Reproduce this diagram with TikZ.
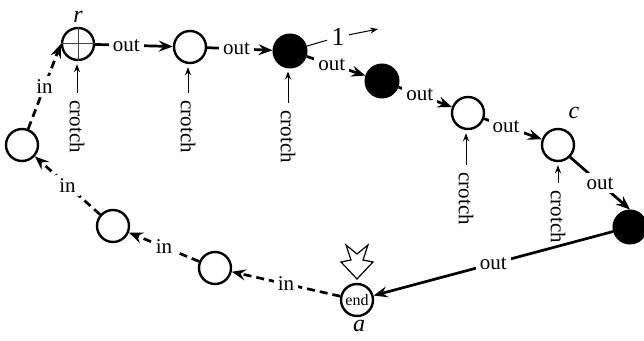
\documentclass[tikz,border=0pt]{standalone}
\usepackage{fontspec}
\setmainfont{Liberation Serif}
\usetikzlibrary{arrows.meta}
\begin{document}
\begin{tikzpicture}[x=0.5pt,y=-0.5pt,
  wnode/.style={circle,draw,line width=1.2pt,minimum size=16pt,inner sep=0pt},
  bnode/.style={circle,draw,fill=black,line width=1pt,minimum size=16.5pt,inner sep=0pt},
  lbl/.style={fill=white,inner sep=2pt,font=\fontsize{10.5}{12}\selectfont},
  outedge/.style={line width=1.35pt,-{Stealth[length=7pt,width=5.5pt,inset=2.5pt]}},
  inedge/.style={outedge,dash pattern=on 4pt off 2.5pt},
  crotchlbl/.style={rotate=-90,anchor=west,inner sep=3.5pt,font=\fontsize{10.5}{12}\selectfont},
  crarrow/.style={line width=0.5pt,-{Stealth[length=4pt,width=3pt]},shorten >=1.5pt},
  vname/.style={font=\fontsize{12}{14}\selectfont\itshape},
  thinline/.style={line width=0.5pt}
]
\useasboundingbox (0,0) rectangle (644,341);

% vertices
\node[wnode] (r) at (78,44) {};
\draw[thinline, black!75] (r.north) -- (r.south) (r.west) -- (r.east);
\node[wnode] (n2) at (190,47) {};
\node[bnode] (b1) at (290,51) {};
\node[bnode] (b2) at (382,81) {};
\node[wnode] (n5) at (468,113) {};
\node[wnode] (c) at (558,145) {};
\node[bnode] (b3) at (630,227) {};
\node[wnode, font=\fontsize{8}{9}\selectfont] (a) at (357,300) {end};
\node[wnode] (i1) at (215,268) {};
\node[wnode] (i2) at (113,226) {};
\node[wnode] (i3) at (22,145) {};

% vertex names
\node[vname] (rl) at (78,17) {r};
\node[vname] (cl) at (574,113) {c};
\node[vname] (al) at (359,326) {a};

% out edges
\draw[outedge] (r) -- node[lbl,pos=0.4]{out} (n2);
\draw[outedge] (n2) -- node[lbl,pos=0.45]{out} (b1);
\draw[outedge] (b1) -- node[lbl,pos=0.43]{out} (b2);
\draw[outedge] (b2) -- node[lbl,pos=0.4]{out} (n5);
\draw[outedge] (n5) -- node[lbl,pos=0.38]{out} (c);
\draw[outedge] (c.-45) -- node[lbl,pos=0.5]{out} (b3.north);
\draw[outedge] (b3) -- node[lbl,pos=0.5]{out} (a);

% in edges
\draw[inedge] (a) -- node[lbl,pos=0.5]{in} (i1);
\draw[inedge] (i1) -- node[lbl,pos=0.5]{in} (i2);
\draw[inedge] (i2) -- node[lbl,pos=0.5]{in} (i3);
\draw[inedge] (i3) -- node[lbl,pos=0.5]{in} (r.west);

% crotch arrows
\node[crotchlbl] (k1) at (77,93) {crotch};
\draw[crarrow] (k1.west) -- (k1.west |- r.south);
\node[crotchlbl] (k2) at (188,93) {crotch};
\draw[crarrow] (k2.west) -- (k2.west |- n2.south);
\node[crotchlbl] (k3) at (288,103) {crotch};
\draw[crarrow] (k3.west) -- (k3.west |- b1.south);
\node[crotchlbl] (k4) at (466,165) {crotch};
\draw[crarrow] (k4.west) -- (k4.west |- n5.south);
\node[crotchlbl] (k5) at (558,183) {crotch};
\draw[crarrow] (k5.west) -- (k5.west |- c.south);

% the "1" marker
\node[font=\fontsize{13}{15}\selectfont, inner sep=2pt] (one) at (338,37) {1};
\coordinate (onetip) at (378,29);
\draw[thinline] (b1) -- (one);
\draw[thinline, -{Stealth[length=4pt,width=3pt]}] (one) -- (onetip);

% hollow arrow pointing at end
\draw[line width=0.6pt, fill=white] (346,245) -- (357,254) -- (368,245) -- (363,260)
  -- (373,262) -- (357,279) -- (341,262) -- (351,260) -- cycle;
\end{tikzpicture}
\end{document}
